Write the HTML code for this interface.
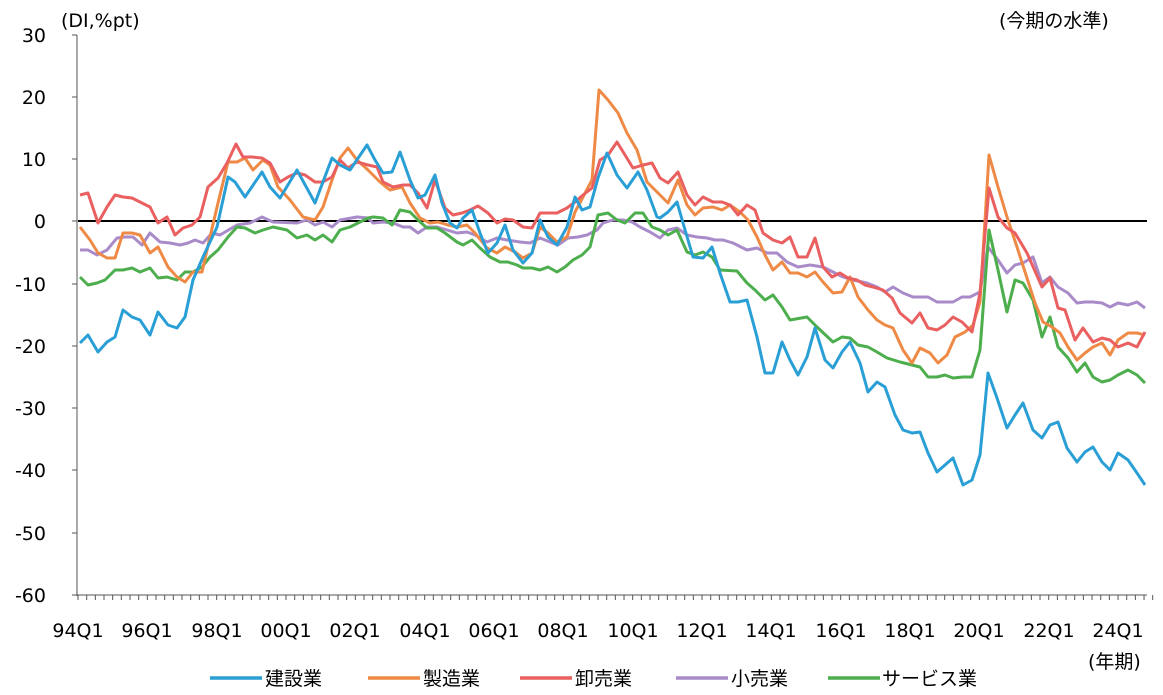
<!DOCTYPE html>
<html><head><meta charset="utf-8"><style>
body{margin:0;background:#fff;}
svg text{font-family:"DejaVu Sans","Noto Sans CJK JP",sans-serif;fill:#000;}
</style></head><body>
<svg width="1163" height="690" xmlns="http://www.w3.org/2000/svg">
<g font-size="19" text-anchor="end">
<text x="46" y="42">30</text><text x="46" y="104">20</text><text x="46" y="166">10</text>
<text x="46" y="228">0</text><text x="46" y="291">-10</text><text x="46" y="353">-20</text>
<text x="46" y="415">-30</text><text x="46" y="477">-40</text><text x="46" y="540">-50</text>
<text x="46" y="602">-60</text>
</g>
<text x="61" y="27" font-size="19">(DI,%pt)</text>
<text x="999" y="27" font-size="19">(今期の水準)</text>
<text x="1088" y="668" font-size="19">(年期)</text>
<g stroke="#555" stroke-width="1">
<line x1="77" y1="35" x2="77" y2="596"/>
<line x1="77" y1="595" x2="1147" y2="595"/>
<line x1="72" y1="35" x2="77" y2="35"/><line x1="72" y1="97" x2="77" y2="97"/><line x1="72" y1="159" x2="77" y2="159"/><line x1="72" y1="221" x2="77" y2="221"/><line x1="72" y1="284" x2="77" y2="284"/><line x1="72" y1="346" x2="77" y2="346"/><line x1="72" y1="408" x2="77" y2="408"/><line x1="72" y1="470" x2="77" y2="470"/><line x1="72" y1="533" x2="77" y2="533"/><line x1="72" y1="595" x2="77" y2="595"/>
</g>
<g id="ticks" stroke="#555" stroke-width="1"></g>
<g font-size="19" text-anchor="middle">
<text x="78" y="637">94Q1</text><text x="147" y="637">96Q1</text><text x="217" y="637">98Q1</text><text x="286" y="637">00Q1</text><text x="355" y="637">02Q1</text><text x="425" y="637">04Q1</text><text x="494" y="637">06Q1</text><text x="563" y="637">08Q1</text><text x="633" y="637">10Q1</text><text x="702" y="637">12Q1</text><text x="771" y="637">14Q1</text><text x="841" y="637">16Q1</text><text x="910" y="637">18Q1</text><text x="979" y="637">20Q1</text><text x="1049" y="637">22Q1</text><text x="1118" y="637">24Q1</text>
</g>
<line x1="78" y1="221" x2="1147" y2="221" stroke="#000" stroke-width="2"/>
<g fill="none" stroke-width="3" stroke-linejoin="round">
<polyline stroke="#a98bc9" points="80,250 88,250 97,255 107,250 117,238 125,237 133,237 142,245 150,233 160,242 170,243 180,245 188,243 195,240 203,243 212,233 220,235 237,225 250,223 262,217 273,222 297,223 307,220 315,225 323,222 332,227 340,220 357,217 368,218 373,223 383,222 393,223 403,227 410,227 418,233 427,227 437,227 447,230 457,233 467,232 475,235 487,242 497,238 507,240 520,242 530,243 540,238 550,242 558,245 568,238 578,237 587,235 597,230 603,223 613,220 623,220 632,222 640,227 650,232 660,238 668,230 677,228 687,235 697,237 707,238 715,240 723,240 733,243 747,250 757,248 767,253 777,253 787,262 798,267 810,265 823,267 833,272 843,277 853,280 867,283 877,287 885,292 893,287 903,293 913,297 928,297 937,302 953,302 962,297 970,297 980,292 988,247 998,260 1007,273 1015,265 1023,263 1033,257 1042,283 1050,277 1058,287 1068,293 1077,303 1085,302 1093,302 1102,303 1110,307 1118,303 1128,305 1137,302 1145,308"/>
<polyline stroke="#4cae4c" points="80,277 88,285 97,283 105,280 115,270 123,270 132,268 140,272 150,268 158,278 167,277 177,280 185,272 193,272 202,267 210,257 218,250 228,237 237,227 245,228 255,233 263,230 273,227 287,230 297,238 307,235 315,240 323,235 332,242 340,230 350,227 360,222 368,218 373,217 383,218 392,225 400,210 410,212 418,220 427,228 437,228 445,233 457,242 463,245 472,240 480,248 490,257 500,262 508,262 517,265 523,268 532,268 540,270 548,267 557,272 565,267 573,260 582,255 590,247 598,215 608,213 617,220 625,223 635,213 643,213 652,227 660,230 668,235 677,230 687,252 695,255 703,252 712,257 720,270 737,271 747,283 755,290 765,300 773,295 782,307 790,320 807,317 817,327 833,342 842,337 850,338 858,345 868,347 877,352 887,358 900,362 920,367 928,377 937,377 945,375 953,378 963,377 972,377 980,350 989,230 998,270 1007,312 1015,280 1023,283 1033,300 1042,337 1050,317 1058,347 1068,358 1077,372 1085,363 1093,377 1102,382 1110,380 1118,375 1128,370 1137,375 1145,383"/>
<polyline stroke="#ee8a45" points="80,227 90,240 98,253 107,258 115,258 123,233 132,233 140,235 150,253 158,247 168,267 177,277 185,282 193,272 202,272 210,237 218,203 228,162 237,162 245,158 253,170 263,160 270,165 278,187 290,200 303,217 315,220 323,207 332,180 340,158 348,148 357,160 368,170 380,182 390,190 402,187 410,203 420,218 430,223 438,222 448,225 457,227 467,225 475,233 487,248 497,253 505,247 515,252 523,258 532,253 540,227 548,233 557,242 567,237 575,212 583,197 592,180 599,90 608,100 618,113 627,133 637,150 647,182 658,193 668,203 678,180 687,205 695,215 703,208 713,207 722,210 730,205 740,212 748,220 757,237 765,255 773,270 782,262 790,273 798,273 807,277 815,272 823,282 833,293 842,292 850,277 858,297 868,310 877,320 885,325 893,328 903,350 912,363 920,348 930,353 938,363 947,355 955,337 965,332 973,325 980,302 989,155 998,187 1007,217 1017,247 1027,278 1035,303 1043,322 1052,327 1060,333 1068,347 1077,360 1085,353 1093,347 1102,343 1110,355 1118,340 1128,333 1137,333 1145,335"/>
<polyline stroke="#ea5f5f" points="80,195 88,193 98,223 107,207 115,195 123,197 132,198 142,203 150,207 158,223 167,217 175,235 183,228 192,225 200,217 208,187 218,178 227,163 236,144 243,157 252,157 262,158 270,163 280,182 288,177 297,173 305,175 315,182 323,182 332,177 340,160 348,168 357,162 368,165 377,167 383,182 393,187 403,185 410,185 418,193 427,208 435,180 445,208 453,215 462,213 470,210 478,206 488,213 497,223 505,219 513,220 523,227 532,228 540,213 548,213 557,213 567,208 575,202 583,195 592,188 600,160 608,155 617,142 625,155 633,168 643,165 652,163 660,178 668,183 678,172 687,195 695,205 703,197 713,202 722,202 730,205 738,215 747,205 755,210 763,233 773,240 782,243 790,237 798,257 807,257 815,238 823,267 832,277 840,273 848,278 857,280 865,285 873,287 883,290 892,298 900,313 912,323 920,313 928,328 937,330 945,325 953,317 962,322 972,332 980,293 989,188 998,217 1007,228 1015,233 1027,253 1042,287 1050,278 1058,308 1065,310 1075,340 1083,328 1093,342 1102,338 1110,340 1118,347 1128,343 1137,347 1145,332"/>
<polyline stroke="#2a9fd6" points="80,343 88,335 98,352 107,342 115,337 123,310 132,317 140,320 150,335 158,312 168,325 177,328 185,317 193,280 203,257 217,227 228,177 235,182 245,197 262,172 270,187 280,198 297,170 315,203 332,158 340,165 350,170 367,145 375,160 383,173 392,172 400,152 410,180 418,198 425,195 435,175 442,203 450,223 457,228 463,218 472,210 480,233 488,253 497,243 505,225 513,250 523,263 532,253 540,220 548,237 557,245 567,227 575,197 582,210 590,207 598,178 607,153 617,175 627,188 638,172 647,190 657,217 660,218 668,212 677,202 683,223 693,257 703,258 712,247 720,273 730,302 738,302 747,300 757,337 765,373 773,373 782,342 790,360 798,375 807,357 815,328 825,360 833,368 842,352 850,342 860,363 868,392 877,382 885,387 895,415 903,430 912,433 920,432 928,453 937,472 945,465 953,458 963,485 972,480 980,455 988,373 997,398 1007,428 1015,415 1023,403 1033,430 1042,438 1050,425 1058,422 1067,448 1077,462 1085,452 1093,447 1102,462 1110,470 1118,453 1128,460 1137,473 1145,485"/>
</g>
<g stroke-width="3.5">
<line x1="210" y1="678" x2="262" y2="678" stroke="#2a9fd6"/>
<line x1="368" y1="678" x2="420" y2="678" stroke="#ee8a45"/>
<line x1="520" y1="678" x2="572" y2="678" stroke="#ea5f5f"/>
<line x1="676" y1="678" x2="728" y2="678" stroke="#a98bc9"/>
<line x1="828" y1="678" x2="880" y2="678" stroke="#4cae4c"/>
</g>
<g font-size="19">
<text x="265" y="685">建設業</text><text x="423" y="685">製造業</text><text x="575" y="685">卸売業</text><text x="731" y="685">小売業</text><text x="882" y="685">サービス業</text>
</g>
</svg>
<script>
var g=document.getElementById('ticks'),s='';
for(var i=0;i<=124;i++){var x=78+i*8.667;s+='<line x1="'+x+'" y1="595" x2="'+x+'" y2="600"/>';}
g.innerHTML=s;
</script>
</body></html>
